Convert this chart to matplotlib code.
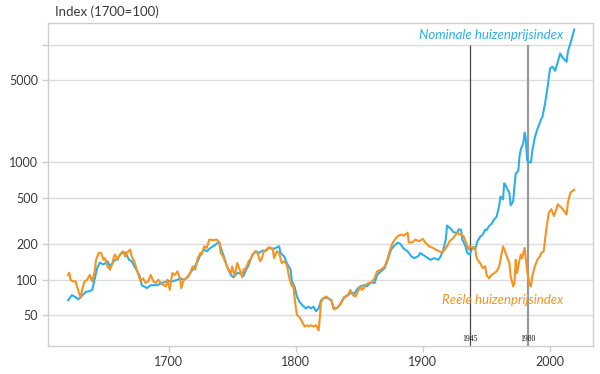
import matplotlib
matplotlib.use('Agg')
import matplotlib.pyplot as plt
from matplotlib.ticker import FixedLocator, NullLocator

# Nominal house price index (1700=100)
nom_years = [1621, 1624, 1627, 1629, 1635, 1638, 1640, 1644, 1646, 1649, 1652, 1654, 1657, 1660,
             1663, 1666, 1669, 1671, 1677, 1679, 1683, 1686, 1691, 1696, 1700, 1703, 1707, 1709,
             1712, 1715, 1717, 1720, 1723, 1725, 1728, 1730, 1733, 1736, 1738, 1740, 1742, 1744,
             1746, 1749, 1751, 1754, 1756, 1759, 1761, 1763, 1766, 1769, 1771, 1774, 1776, 1779,
             1783, 1787, 1788, 1791, 1793, 1796, 1797, 1799, 1801, 1803, 1805, 1808, 1810, 1812,
             1814, 1816, 1818, 1820, 1822, 1825, 1828, 1830, 1833, 1835, 1838, 1841, 1844, 1846,
             1849, 1851, 1854, 1856, 1859, 1862, 1864, 1867, 1870, 1872, 1875, 1877, 1880, 1882,
             1885, 1888, 1891, 1893, 1896, 1898, 1901, 1904, 1906, 1909, 1912, 1914, 1916, 1918,
             1919, 1922, 1924, 1927, 1928, 1930, 1931, 1933, 1935, 1937, 1939, 1941, 1943, 1945,
             1947, 1949, 1950, 1952, 1954, 1956, 1958, 1960, 1961, 1963, 1964, 1965, 1967, 1968,
             1969, 1971, 1972, 1973, 1975, 1976, 1977, 1979, 1980, 1981, 1982, 1984, 1985, 1986,
             1988, 1990, 1993, 1994, 1996, 1998, 2000, 2002, 2004, 2006, 2008, 2010, 2013, 2014,
             2017, 2019]
nom_index = [67, 74, 71, 68, 79, 80, 82, 127, 140, 135, 144, 130, 144, 153,
             169, 171, 148, 144, 110, 90, 85, 90, 90, 95, 98, 97, 100, 103,
             100, 105, 114, 126, 144, 164, 181, 175, 187, 196, 204, 207, 175, 153,
             130, 110, 105, 114, 114, 108, 122, 134, 164, 175, 169, 178, 175, 187,
             184, 193, 169, 158, 139, 122, 97, 88, 72, 65, 61, 57, 59, 57,
             59, 54, 57, 67, 70, 70, 67, 57, 58, 62, 71, 74, 78, 76,
             85, 88, 90, 88, 95, 94, 110, 118, 126, 144, 181, 193, 207, 204,
             184, 175, 158, 153, 158, 169, 161, 153, 148, 153, 148, 158, 181, 220,
             290, 272, 255, 250, 268, 268, 220, 200, 169, 164, 190, 181, 215, 232,
             243, 268, 265, 287, 300, 327, 345, 430, 513, 485, 665, 640, 576, 550,
             430, 467, 628, 800, 850, 1130, 1290, 1470, 1800, 1570, 1040, 1000, 1000, 1250,
             1630, 1920, 2340, 2450, 3150, 4360, 6340, 6550, 6040, 7160, 8500, 7800, 7200, 8800,
             11300, 13600]

# Real house price index (1700=100)
real_years = [1621, 1622, 1623, 1625, 1627, 1628, 1631, 1632, 1634, 1636, 1638, 1640, 1642, 1643,
              1645, 1647, 1649, 1650, 1652, 1654, 1656, 1657, 1658, 1660, 1661, 1662, 1664, 1666,
              1667, 1670, 1671, 1673, 1676, 1678, 1680, 1682, 1684, 1686, 1688, 1690, 1692, 1694,
              1696, 1698, 1699, 1701, 1703, 1705, 1707, 1709, 1710, 1712, 1714, 1717, 1719, 1721,
              1723, 1725, 1726, 1728, 1730, 1732, 1735, 1738, 1740, 1741, 1743, 1745, 1747, 1749,
              1750, 1752, 1754, 1756, 1758, 1759, 1761, 1763, 1765, 1767, 1768, 1770, 1772, 1773,
              1775, 1777, 1779, 1782, 1783, 1785, 1787, 1789, 1791, 1793, 1795, 1797, 1798, 1800,
              1801, 1803, 1805, 1807, 1809, 1810, 1812, 1814, 1816, 1818, 1819, 1820, 1822, 1824,
              1826, 1828, 1830, 1833, 1835, 1838, 1841, 1843, 1845, 1847, 1849, 1851, 1852, 1854,
              1855, 1857, 1859, 1862, 1864, 1867, 1870, 1872, 1875, 1877, 1880, 1883, 1885, 1888,
              1889, 1892, 1894, 1897, 1900, 1902, 1905, 1908, 1910, 1913, 1915, 1917, 1919, 1921,
              1924, 1927, 1929, 1930, 1932, 1934, 1936, 1937, 1939, 1941, 1942, 1943, 1945, 1947,
              1949, 1950, 1952, 1954, 1956, 1958, 1960, 1962, 1963, 1965, 1967, 1968, 1969, 1971,
              1972, 1973, 1974, 1976, 1977, 1978, 1980, 1981, 1982, 1984, 1985, 1986, 1988, 1990,
              1992, 1993, 1995, 1997, 1999, 2001, 2003, 2005, 2006, 2009, 2011, 2013, 2014, 2016,
              2019]
real_index = [110, 115, 100, 97, 97, 88, 70, 82, 97, 100, 110, 97, 118, 148,
              169, 169, 148, 153, 130, 122, 139, 158, 164, 148, 158, 164, 175, 158,
              169, 181, 158, 144, 114, 97, 103, 94, 97, 110, 97, 94, 100, 94,
              90, 88, 100, 82, 114, 110, 118, 103, 85, 100, 103, 114, 130, 122,
              153, 169, 164, 193, 187, 220, 218, 220, 209, 169, 158, 139, 122, 114,
              130, 107, 139, 122, 105, 122, 126, 144, 153, 169, 175, 169, 144, 148,
              175, 181, 190, 181, 153, 175, 169, 139, 144, 134, 103, 88, 90, 59,
              50, 48, 44, 40, 41, 40, 41, 40, 41, 37, 48, 65, 70, 72,
              69, 67, 56, 58, 62, 70, 74, 82, 74, 72, 80, 88, 82, 86,
              90, 94, 94, 103, 118, 122, 130, 148, 193, 213, 235, 243, 238, 252,
              207, 210, 220, 213, 223, 207, 193, 187, 181, 175, 169, 181, 193, 213,
              228, 252, 243, 243, 235, 207, 181, 193, 187, 190, 158, 148, 139, 126,
              130, 110, 103, 110, 114, 118, 130, 169, 193, 169, 148, 139, 107, 88,
              94, 148, 114, 148, 164, 153, 187, 148, 118, 90, 88, 107, 130, 148,
              158, 169, 175, 268, 373, 400, 350, 400, 440, 411, 386, 360, 455, 555,
              585]

ytick_vals = [50, 100, 200, 500, 1000, 5000, 10000]
ytick_labels = ['50', '100', '200', '500', '1000', '5000', '']
xtick_vals = [1700, 1800, 1900, 2000]
marker_pos = [1937, 1982.5]          # where the vertical lines sit in the picture
marker_labels = ['1945', '1980']

BLUE = '#2cb0ea'
ORANGE = '#f7931e'
GRID = '#dcdcdc'
TEXT = '#3a3a3a'

plt.rcParams['font.family'] = ['Lato', 'DejaVu Sans']

fig = plt.figure(figsize=(6.0, 3.74), dpi=100)
ax = fig.add_axes([0.0795, 0.075, 0.9085, 0.864])

ax.set_yscale('log')
ax.set_xlim(1605, 2033.6)
ax.set_ylim(27.3, 15500)

ax.yaxis.set_major_locator(FixedLocator(ytick_vals))
ax.set_yticklabels(ytick_labels)
ax.yaxis.set_minor_locator(NullLocator())
ax.set_xticks(xtick_vals)
ax.set_xticklabels([str(v) for v in xtick_vals])

ax.grid(True, axis='y', color=GRID, linewidth=1.0)
ax.set_axisbelow(True)
for s in ax.spines.values():
    s.set_color('#cfcfcf')
    s.set_linewidth(1.0)
ax.tick_params(axis='both', colors='#cfcfcf', labelcolor=TEXT, labelsize=9, length=4, width=1)
ax.tick_params(axis='y', pad=3)
ax.tick_params(axis='x', pad=3)

# vertical reference lines
ax.vlines(marker_pos[0], 27.3, 10000, color='#4a4a4a', linewidth=0.9, zorder=1)
ax.vlines(marker_pos[1], 27.3, 10000, color='#9a9a9a', linewidth=1.6, zorder=1)
for xp, lab in zip(marker_pos, marker_labels):
    ax.text(xp, 31.5, lab, ha='center', va='center', fontsize=5.5,
            family=['Liberation Serif', 'DejaVu Serif'], color='#111111')

ax.plot(nom_years, nom_index, color=BLUE, linewidth=1.5, zorder=3)
ax.plot(real_years, real_index, color=ORANGE, linewidth=1.5, zorder=4)

ax.text(2010, 12300, 'Nominale huizenprijsindex', color=BLUE, fontsize=9.5,
        style='italic', ha='right', va='center')
ax.text(2010, 67, 'Reële huizenprijsindex', color=ORANGE, fontsize=9.5,
        style='italic', ha='right', va='center')

fig.text(55 / 600, 1 - 12 / 374, 'Index (1700=100)', fontsize=9.5, color=TEXT,
         ha='left', va='center')

fig.savefig('out.png', dpi=100)
